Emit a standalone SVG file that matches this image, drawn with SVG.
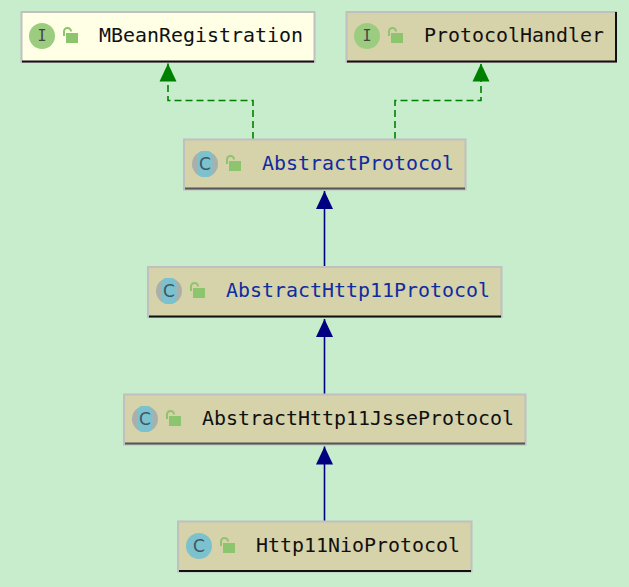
<svg xmlns="http://www.w3.org/2000/svg" width="629" height="587" viewBox="0 0 629 587">
<style>
.box{stroke:#c0c0c0;stroke-width:2}
.tan{fill:#d6d2a9}
.pale{fill:#ffffe6}
.base{stroke:#111;stroke-width:2;fill:none}
.t{font-family:"DejaVu Sans Mono","Liberation Mono",monospace;font-size:19px;fill:#101010}
.blue{fill:#0f2ca0}
.ic{fill:#9ccc80}
.cc{fill:#7cc1ce}
.gr{fill:#a9b0ab}
.glyph{font-family:"DejaVu Sans Mono",monospace;font-size:15px;fill:#444;text-anchor:middle}
.gc{font-family:"DejaVu Sans",sans-serif;font-size:17px;fill:#3f5560;text-anchor:middle}
.lock{fill:#8cc56e}
.sh{fill:none;stroke:#8cc56e;stroke-width:2}
.dash{fill:none;stroke:#008000;stroke-width:1.600;stroke-dasharray:7 4}
.solid{fill:none;stroke:#000080;stroke-width:1.600}
</style>
<defs>
<g id="lock"><path class="sh" d="M1 1V-3.500a3.500 3.500 0 0 1 7 0"/><rect class="lock" x="3" y="-2" width="12" height="10"/></g>
<marker id="ag" markerUnits="userSpaceOnUse" markerWidth="19" markerHeight="19" refX="18" refY="9" orient="auto"><path d="M0 0.500L18 9L0 17.500Z" fill="#008000"/></marker>
<marker id="ab" markerUnits="userSpaceOnUse" markerWidth="19" markerHeight="19" refX="18" refY="9" orient="auto"><path d="M0 0.500L18 9L0 17.500Z" fill="#000080"/></marker>
</defs>
<rect width="629" height="587" fill="#c7edcc"/>
<g id="connectors">
<path class="dash" d="M253 139V100.500H168V63.500" marker-end="url(#ag)"/>
<path class="dash" d="M395 139V100.500H481V63.500" marker-end="url(#ag)"/>
<path class="solid" d="M324.500 266V191" marker-end="url(#ab)"/>
<path class="solid" d="M324.500 394V319" marker-end="url(#ab)"/>
<path class="solid" d="M324.500 521V446.500" marker-end="url(#ab)"/>
</g>
<g id="MBeanRegistration">
<rect class="box pale" x="21.500" y="12" width="293" height="50"/>
<path class="base" d="M22 61.500H314"/>
<circle class="ic" cx="42" cy="36" r="13"/><text class="glyph" x="42" y="41">I</text>
<use href="#lock" x="63" y="35"/>
<text class="t" x="99" y="42" textLength="204" lengthAdjust="spacingAndGlyphs">MBeanRegistration</text>
</g>
<g id="ProtocolHandler">
<rect class="box tan" x="346.500" y="12" width="269.500" height="50"/>
<path class="base" d="M347 61.500H616V12"/>
<circle class="ic" cx="367" cy="36" r="13"/><text class="glyph" x="367" y="41">I</text>
<use href="#lock" x="388" y="35"/>
<text class="t" x="424" y="42" textLength="180" lengthAdjust="spacingAndGlyphs">ProtocolHandler</text>
</g>
<g id="AbstractProtocol">
<rect class="box tan" x="184" y="139.500" width="281.500" height="50"/>
<path class="base" d="M185 188.500H465" style="stroke:#555"/>
<circle class="gr" cx="205" cy="164" r="13"/><rect class="cc" x="197.500" y="151" width="15" height="26" rx="5"/><text class="gc" x="205" y="170">C</text>
<use href="#lock" x="226" y="163"/>
<text class="t blue" x="262" y="170" textLength="192" lengthAdjust="spacingAndGlyphs">AbstractProtocol</text>
</g>
<g id="AbstractHttp11Protocol">
<rect class="box tan" x="148" y="267" width="353.500" height="50"/>
<path class="base" d="M149 316.500H501"/>
<circle class="gr" cx="169" cy="291" r="13"/><rect class="cc" x="161.500" y="278" width="15" height="26" rx="5"/><text class="gc" x="169" y="297">C</text>
<use href="#lock" x="190" y="290"/>
<text class="t blue" x="226" y="297" textLength="264" lengthAdjust="spacingAndGlyphs">AbstractHttp11Protocol</text>
</g>
<g id="AbstractHttp11JsseProtocol">
<rect class="box tan" x="124" y="394.500" width="401.500" height="50"/>
<path class="base" d="M125 443.500H525" style="stroke:#555"/>
<circle class="gr" cx="145" cy="419" r="13"/><rect class="cc" x="137.500" y="406" width="15" height="26" rx="5"/><text class="gc" x="145" y="425">C</text>
<use href="#lock" x="166" y="418"/>
<text class="t" x="202" y="425" textLength="312" lengthAdjust="spacingAndGlyphs">AbstractHttp11JsseProtocol</text>
</g>
<g id="Http11NioProtocol">
<rect class="box tan" x="178" y="521.500" width="293.500" height="50"/>
<path class="base" d="M179 571H471"/>
<circle class="cc" cx="199" cy="546" r="13"/><text class="gc" x="199" y="552">C</text>
<use href="#lock" x="220" y="545"/>
<text class="t" x="256" y="552" textLength="204" lengthAdjust="spacingAndGlyphs">Http11NioProtocol</text>
</g>
</svg>
